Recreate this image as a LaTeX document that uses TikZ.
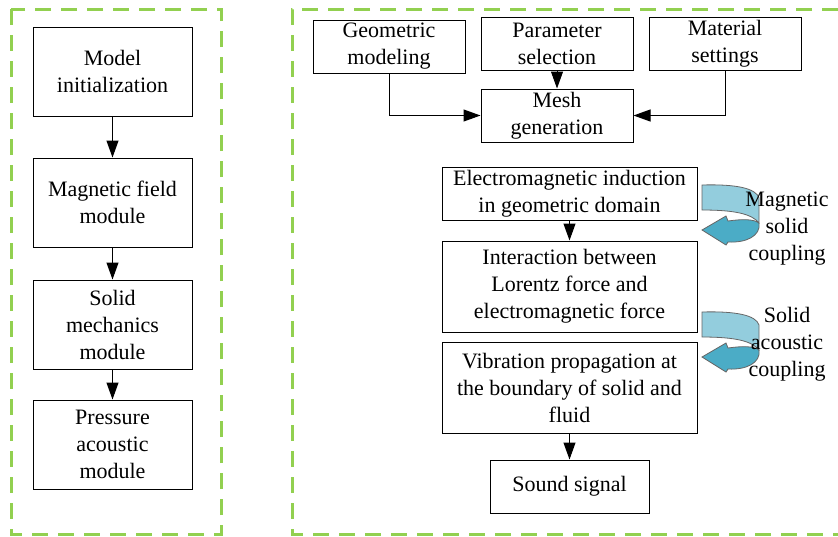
\documentclass[tikz,border=0pt]{standalone}
\usepackage{fontspec}
\setmainfont{Liberation Serif}
\usetikzlibrary{positioning,arrows.meta}
\definecolor{dashgreen}{HTML}{92D050}
\definecolor{ribbonlight}{HTML}{93CDDD}
\definecolor{ribbondark}{HTML}{4BACC6}

\begin{document}
\begin{tikzpicture}[x=0.5pt,y=-0.5pt, line width=0.5pt, every node/.style={font=\fontsize{11}{13.5}\selectfont},
  st/.style={draw,align=center,inner sep=1pt,minimum height=26.5pt},
  lbox/.style={st,minimum width=79.5pt,minimum height=44.5pt},
  sbox/.style={st,minimum width=76pt},
  wbox/.style={st,minimum width=127.5pt},
  frame/.style={dashgreen,line width=1.5pt,dash pattern=on 8pt off 5pt},
  rib/.style={draw=black!60,line width=0.4pt}, >={Triangle[length=8.5pt,width=6pt]}]
  \useasboundingbox (0,0) rectangle (838,536);
  \draw[frame] (11,9) rectangle (221,534);
  \draw[frame] (838,9) -- (292,9) -- (292,534) -- (838,534);

  \node[lbox] (a) at (112.5,71.5) {Model\\initialization};
  \node[lbox,below=20.5pt of a] (b) {Magnetic field\\module};
  \node[lbox,below=16pt of b] (c) {Solid\\mechanics\\module};
  \node[lbox,below=15pt of c] (d) {Pressure\\acoustic\\module};

  \node[sbox] (f) at (557,43.5) {Parameter\\selection};
  \node[sbox,left=7.5pt of f,yshift=-1.5pt] (e) {Geometric\\modeling};
  \node[sbox,right=7.5pt of f] (g) {Material\\settings};
  \node[sbox,below=9pt of f] (h) {Mesh\\generation};
  \node[wbox] (i) at (569.5,193.5) {Electromagnetic induction\\in geometric domain};
  \node[wbox,minimum height=45.5pt,below=10pt of i] (j) {Interaction between\\Lorentz force and\\electromagnetic force};
  \node[wbox,minimum height=45.5pt,below=4.5pt of j] (k) {Vibration propagation at\\the boundary of solid and\\fluid};
  \node[st,minimum width=79.5pt,below=13pt of k] (l) {Sound signal};

  \draw[->] (a)--(b); \draw[->] (b)--(c); \draw[->] (c)--(d);
  \draw[->] (e.south) |- (h.west); \draw[->] (f)--(h); \draw[->] (g.south) |- (h.east);
  \draw[->] (i)--(j); \draw[->] (k)--(l);

  \draw[rib,fill=ribbondark] (702,230) -- (726,216) -- (728,221) .. controls (742,219) and (754,219) .. (759,223)
    .. controls (761,236) and (746,243) .. (728,242) -- (726,245) -- cycle;
  \draw[rib,fill=ribbonlight] (702,185) .. controls (735,184) and (756,188) .. (759,198) -- (759,223)
    .. controls (752,214) and (735,210) .. (702,210) -- cycle;
  \draw[rib,fill=ribbondark,shift={(0,127)}] (702,230) -- (726,216) -- (728,221) .. controls (742,219) and (754,219) .. (759,223)
    .. controls (761,236) and (746,243) .. (728,242) -- (726,245) -- cycle;
  \draw[rib,fill=ribbonlight,shift={(0,127)}] (702,185) .. controls (735,184) and (756,188) .. (759,198) -- (759,223)
    .. controls (752,214) and (735,210) .. (702,210) -- cycle;
  \node[align=center] (m) at (787,229) {Magnetic\\solid\\coupling};
  \node[align=center] (n) at (787,344) {Solid\\acoustic\\coupling};
\end{tikzpicture}
\end{document}
